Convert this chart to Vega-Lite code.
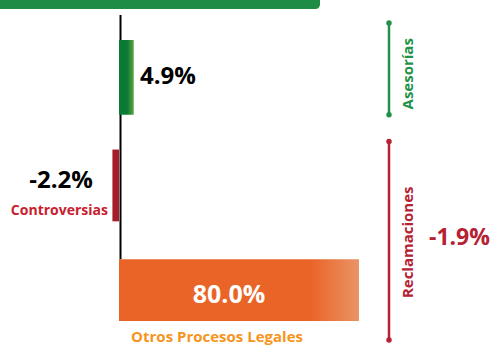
{
  "$schema": "https://vega.github.io/schema/vega-lite/v6.json",
  "width": 496,
  "height": 346,
  "autosize": {"type": "fit", "contains": "padding"},
  "padding": 0,
  "background": "white",
  "config": {"view": {"stroke": null}, "axis": {"disable": true}},
  "datasets": {
    "bars": [
      {"name": "Asesorías", "value": 4.9, "y_top": 88.44, "y_bot": 66.76},
      {"name": "Controversias", "value": -2.2, "y_top": 56.65, "y_bot": 35.84},
      {"name": "Otros Procesos Legales", "value": 80.0, "y_top": 24.86, "y_bot": 6.94}
    ],
    "brackets": [
      {"group": "Asesorías", "total": 4.9, "x": 90, "y_top": 93.35, "y_bot": 66.76},
      {"group": "Reclamaciones", "total": -1.9, "x": 90, "y_top": 58.96, "y_bot": 1.45}
    ],
    "frame": [
      {"x0": -39.67, "x1": 67, "y0": 97.4, "y1": 100},
      {"x0": 0.5, "x1": 0.5, "y0": 24.86, "y1": 95.66}
    ]
  },
  "layer": [
    {
      "data": {"name": "frame"},
      "transform": [{"filter": "datum.x0 < 0"}],
      "mark": {"type": "rect", "color": "#1f8c45", "cornerRadiusBottomRight": 9},
      "encoding": {
        "x": {"field": "x0", "type": "quantitative", "scale": {"domain": [-39.67, 125.67], "nice": false, "zero": false}},
        "x2": {"field": "x1"},
        "y": {"field": "y0", "type": "quantitative", "scale": {"domain": [0, 100], "nice": false, "zero": false}},
        "y2": {"field": "y1"}
      }
    },
    {
      "data": {"name": "frame"},
      "transform": [{"filter": "datum.x0 > 0"}],
      "mark": {"type": "rule", "color": "#000000", "strokeWidth": 2},
      "encoding": {
        "x": {"field": "x0", "type": "quantitative", "scale": {"domain": [-39.67, 125.67], "nice": false, "zero": false}},
        "y": {"field": "y0", "type": "quantitative", "scale": {"domain": [0, 100], "nice": false, "zero": false}},
        "y2": {"field": "y1"}
      }
    },
    {
      "data": {"name": "bars"},
      "transform": [{"filter": "datum.name == 'Asesorías'"}, {"calculate": "0", "as": "zero"}],
      "mark": {"type": "rect", "color": {"gradient": "linear", "x1": 0, "x2": 1, "y1": 0, "y2": 0, "stops": [{"offset": 0, "color": "#0b7a36"}, {"offset": 0.55, "color": "#0b7a36"}, {"offset": 1, "color": "#56a63a"}]}},
      "encoding": {
        "x": {"field": "zero", "type": "quantitative", "scale": {"domain": [-39.67, 125.67], "nice": false, "zero": false}},
        "x2": {"field": "value"},
        "y": {"field": "y_top", "type": "quantitative", "scale": {"domain": [0, 100], "nice": false, "zero": false}},
        "y2": {"field": "y_bot"}
      }
    },
    {
      "data": {"name": "bars"},
      "transform": [{"filter": "datum.name == 'Controversias'"}, {"calculate": "0", "as": "zero"}],
      "mark": {"type": "rect", "color": "#a51d2b"},
      "encoding": {
        "x": {"field": "zero", "type": "quantitative", "scale": {"domain": [-39.67, 125.67], "nice": false, "zero": false}},
        "x2": {"field": "value"},
        "y": {"field": "y_top", "type": "quantitative", "scale": {"domain": [0, 100], "nice": false, "zero": false}},
        "y2": {"field": "y_bot"}
      }
    },
    {
      "data": {"name": "bars"},
      "transform": [{"filter": "datum.name == 'Otros Procesos Legales'"}, {"calculate": "0", "as": "zero"}],
      "mark": {"type": "rect", "color": {"gradient": "linear", "x1": 0, "x2": 1, "y1": 0, "y2": 0, "stops": [{"offset": 0, "color": "#ea6428"}, {"offset": 0.8, "color": "#ea6428"}, {"offset": 1, "color": "#e99466"}]}},
      "encoding": {
        "x": {"field": "zero", "type": "quantitative", "scale": {"domain": [-39.67, 125.67], "nice": false, "zero": false}},
        "x2": {"field": "value"},
        "y": {"field": "y_top", "type": "quantitative", "scale": {"domain": [0, 100], "nice": false, "zero": false}},
        "y2": {"field": "y_bot"}
      }
    },
    {
      "data": {"name": "bars"},
      "transform": [{"filter": "datum.name == 'Asesorías'"}, {"calculate": "replace(format(datum.value, '.1f'), '\u2212', '-') + '%'", "as": "lbl"}, {"calculate": "datum.value + 2.1", "as": "tx"}, {"calculate": "(datum.y_top + datum.y_bot) / 2", "as": "ty"}],
      "mark": {"type": "text", "align": "left", "baseline": "middle", "font": "Open Sans", "fontWeight": "bold", "fontSize": 24, "color": "#000000"},
      "encoding": {
        "x": {"field": "tx", "type": "quantitative", "scale": {"domain": [-39.67, 125.67], "nice": false, "zero": false}},
        "y": {"field": "ty", "type": "quantitative", "scale": {"domain": [0, 100], "nice": false, "zero": false}},
        "text": {"field": "lbl"}
      }
    },
    {
      "data": {"name": "bars"},
      "transform": [{"filter": "datum.name == 'Controversias'"}, {"calculate": "replace(format(datum.value, '.1f'), '\u2212', '-') + '%'", "as": "lbl"}, {"calculate": "datum.value - 6.5", "as": "tx"}, {"calculate": "datum.y_top - 9", "as": "ty"}],
      "mark": {"type": "text", "align": "right", "baseline": "middle", "font": "Open Sans", "fontWeight": "bold", "fontSize": 24, "color": "#000000"},
      "encoding": {
        "x": {"field": "tx", "type": "quantitative", "scale": {"domain": [-39.67, 125.67], "nice": false, "zero": false}},
        "y": {"field": "ty", "type": "quantitative", "scale": {"domain": [0, 100], "nice": false, "zero": false}},
        "text": {"field": "lbl"}
      }
    },
    {
      "data": {"name": "bars"},
      "transform": [{"filter": "datum.name == 'Controversias'"}, {"calculate": "-3.67", "as": "tx"}, {"calculate": "datum.y_bot + 2.9", "as": "ty"}],
      "mark": {"type": "text", "align": "right", "baseline": "middle", "font": "Open Sans", "fontWeight": "bold", "fontSize": 14, "letterSpacing": -0.6, "color": "#c8202f"},
      "encoding": {
        "x": {"field": "tx", "type": "quantitative", "scale": {"domain": [-39.67, 125.67], "nice": false, "zero": false}},
        "y": {"field": "ty", "type": "quantitative", "scale": {"domain": [0, 100], "nice": false, "zero": false}},
        "text": {"field": "name"}
      }
    },
    {
      "data": {"name": "bars"},
      "transform": [{"filter": "datum.name == 'Otros Procesos Legales'"}, {"calculate": "replace(format(datum.value, '.1f'), '\u2212', '-') + '%'", "as": "lbl"}, {"calculate": "36.67", "as": "tx"}, {"calculate": "14.45", "as": "ty"}],
      "mark": {"type": "text", "align": "center", "baseline": "middle", "font": "Open Sans", "fontWeight": "bold", "fontSize": 25, "color": "#ffffff"},
      "encoding": {
        "x": {"field": "tx", "type": "quantitative", "scale": {"domain": [-39.67, 125.67], "nice": false, "zero": false}},
        "y": {"field": "ty", "type": "quantitative", "scale": {"domain": [0, 100], "nice": false, "zero": false}},
        "text": {"field": "lbl"}
      }
    },
    {
      "data": {"name": "bars"},
      "transform": [{"filter": "datum.name == 'Otros Procesos Legales'"}, {"calculate": "32.67", "as": "tx"}, {"calculate": "2.31", "as": "ty"}],
      "mark": {"type": "text", "align": "center", "baseline": "middle", "font": "Open Sans", "fontWeight": "bold", "fontSize": 15, "letterSpacing": -0.5, "color": "#f7941d"},
      "encoding": {
        "x": {"field": "tx", "type": "quantitative", "scale": {"domain": [-39.67, 125.67], "nice": false, "zero": false}},
        "y": {"field": "ty", "type": "quantitative", "scale": {"domain": [0, 100], "nice": false, "zero": false}},
        "text": {"field": "name"}
      }
    },
    {
      "data": {"name": "brackets"},
      "mark": {"type": "rule", "strokeWidth": 2.5},
      "encoding": {
        "x": {"field": "x", "type": "quantitative", "scale": {"domain": [-39.67, 125.67], "nice": false, "zero": false}},
        "y": {"field": "y_top", "type": "quantitative", "scale": {"domain": [0, 100], "nice": false, "zero": false}},
        "y2": {"field": "y_bot"},
        "color": {"field": "group", "type": "nominal", "scale": {"domain": ["Asesorías", "Reclamaciones"], "range": ["#1f9247", "#b52232"]}, "legend": null}
      }
    },
    {
      "data": {"name": "brackets"},
      "transform": [{"fold": ["y_top", "y_bot"], "as": ["end", "yy"]}],
      "mark": {"type": "point", "filled": true, "size": 30, "opacity": 1},
      "encoding": {
        "x": {"field": "x", "type": "quantitative", "scale": {"domain": [-39.67, 125.67], "nice": false, "zero": false}},
        "y": {"field": "yy", "type": "quantitative", "scale": {"domain": [0, 100], "nice": false, "zero": false}},
        "color": {"field": "group", "type": "nominal", "scale": {"domain": ["Asesorías", "Reclamaciones"], "range": ["#1f9247", "#b52232"]}, "legend": null}
      }
    },
    {
      "data": {"name": "brackets"},
      "transform": [{"calculate": "96.33", "as": "tx"}, {"calculate": "datum.group == 'Asesorías' ? 78.61 : 29.77", "as": "ty"}],
      "mark": {"type": "text", "angle": 270, "align": "center", "baseline": "middle", "font": "Open Sans", "fontWeight": "bold", "fontSize": 15, "letterSpacing": -0.4},
      "encoding": {
        "x": {"field": "tx", "type": "quantitative", "scale": {"domain": [-39.67, 125.67], "nice": false, "zero": false}},
        "y": {"field": "ty", "type": "quantitative", "scale": {"domain": [0, 100], "nice": false, "zero": false}},
        "text": {"field": "group"},
        "color": {"field": "group", "type": "nominal", "scale": {"domain": ["Asesorías", "Reclamaciones"], "range": ["#1f9247", "#b52232"]}, "legend": null}
      }
    },
    {
      "data": {"name": "brackets"},
      "transform": [{"filter": "datum.group == 'Reclamaciones'"}, {"calculate": "replace(format(datum.total, '.1f'), '\u2212', '-') + '%'", "as": "lbl"}, {"calculate": "103.33", "as": "tx"}, {"calculate": "30.92", "as": "ty"}],
      "mark": {"type": "text", "align": "left", "baseline": "middle", "font": "Open Sans", "fontWeight": "bold", "fontSize": 23, "color": "#b52232"},
      "encoding": {
        "x": {"field": "tx", "type": "quantitative", "scale": {"domain": [-39.67, 125.67], "nice": false, "zero": false}},
        "y": {"field": "ty", "type": "quantitative", "scale": {"domain": [0, 100], "nice": false, "zero": false}},
        "text": {"field": "lbl"}
      }
    }
  ]
}
